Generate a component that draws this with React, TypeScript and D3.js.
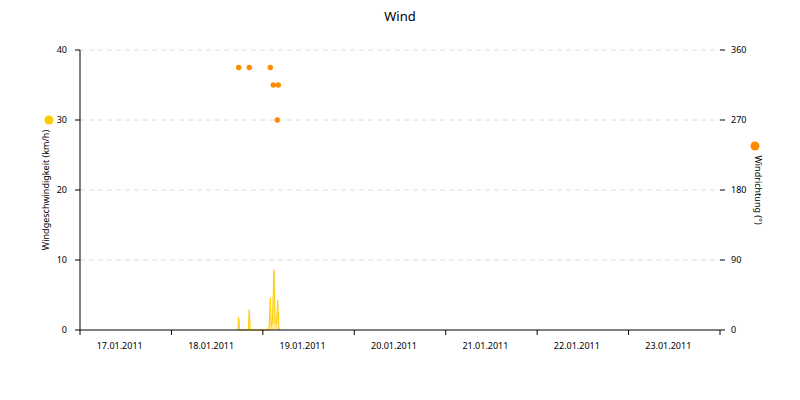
import React from "react";
import * as d3 from "d3";

// Wind speed (km/h) readings, [time, value]
const speedTimes: string[] = [
  "2011-01-18T17:25", "2011-01-18T17:40", "2011-01-18T17:55",
  "2011-01-18T20:10", "2011-01-18T20:26", "2011-01-18T20:42",
  "2011-01-19T01:20", "2011-01-19T01:40", "2011-01-19T01:57", "2011-01-19T02:15",
  "2011-01-19T02:30", "2011-01-19T02:55", "2011-01-19T03:15", "2011-01-19T03:35",
  "2011-01-19T03:54", "2011-01-19T04:12", "2011-01-19T04:30",
];
const speedValues: number[] = [
  0, 1.8, 0,
  0, 2.9, 0,
  0, 0.6, 4.6, 0.5,
  1.2, 8.6, 0.8, 1.0,
  4.3, 0.4, 0,
];

// Wind direction (°)
const dirTimes: string[] = [
  "2011-01-18T17:40", "2011-01-18T20:26", "2011-01-19T01:57",
  "2011-01-19T02:44", "2011-01-19T04:03", "2011-01-19T03:47",
];
const dirValues: number[] = [337.5, 337.5, 337.5, 315, 315, 270];

const dayLabels: string[] = [
  "17.01.2011", "18.01.2011", "19.01.2011", "20.01.2011",
  "21.01.2011", "22.01.2011", "23.01.2011",
];
const leftTicks: number[] = [0, 10, 20, 30, 40];
const rightTicks: number[] = [0, 90, 180, 270, 360];

const W = 800, H = 400;
const M = { left: 80, right: 720, top: 50, bottom: 330 };
const FONT = "'Noto Sans', 'DejaVu Sans', sans-serif";
const YELLOW = "#FFCC00";
const ORANGE = "#FF8C00";

const parse = (s: string) => new Date(s + ":00");

export default function App() {
  const start = new Date(2011, 0, 17, 0, 0, 0);
  const end = new Date(2011, 0, 24, 0, 0, 0);
  const x = d3.scaleTime().domain([start, end]).range([M.left, M.right]);
  const yL = d3.scaleLinear().domain([0, 40]).range([M.bottom, M.top]);
  const yR = d3.scaleLinear().domain([0, 360]).range([M.bottom, M.top]);

  const speed = speedTimes.map((t, i) => ({ t: parse(t), v: speedValues[i] }));
  const dirs = dirTimes.map((t, i) => ({ t: parse(t), v: dirValues[i] }));

  const area = d3
    .area<{ t: Date; v: number }>()
    .x((d) => x(d.t))
    .y0(yL(0))
    .y1((d) => yL(d.v));
  const line = d3
    .line<{ t: Date; v: number }>()
    .x((d) => x(d.t))
    .y((d) => yL(d.v));

  const dayTicks = d3.timeDay.range(start, d3.timeDay.offset(end, 1));
  const days = d3.timeDay.range(start, end);

  return (
    <svg width={W} height={H} style={{ display: "block", position: "absolute", left: 0, top: 0 }} fontFamily={FONT}>
      <rect width={W} height={H} fill="#fff" />
      <text x={400} y={21} textAnchor="middle" fontSize={13} fill="#000">Wind</text>

      {/* grid */}
      {leftTicks.filter((t) => t > 0).map((t) => (
        <line key={"g" + t} x1={M.left} x2={M.right} y1={yL(t)} y2={yL(t)} stroke="#dcdcdc" strokeDasharray="5,4" />
      ))}

      {/* speed area */}
      <path d={area(speed) || ""} fill={YELLOW} fillOpacity={0.45} />
      <path d={line(speed) || ""} fill="none" stroke={YELLOW} strokeWidth={1} />

      {/* direction points */}
      {dirs.map((d, i) => (
        <circle key={"p" + i} cx={x(d.t)} cy={yR(d.v)} r={2.7} fill={ORANGE} />
      ))}

      {/* left axis */}
      <line x1={M.left} x2={M.left} y1={M.top} y2={M.bottom} stroke="#000" />
      {leftTicks.map((t) => (
        <g key={"l" + t}>
          <line x1={M.left - 5} x2={M.left} y1={yL(t)} y2={yL(t)} stroke="#000" />
          <text x={67} y={yL(t)} dy="0.35em" textAnchor="end" fontSize={9} fill="#000">{t}</text>
        </g>
      ))}
      <text transform={`translate(49,190) rotate(-90)`} textAnchor="middle" fontSize={9} fill="#000">
        Windgeschwindigkeit (km/h)
      </text>
      <circle cx={49} cy={120} r={4.5} fill={YELLOW} />

      {/* right axis */}
      {rightTicks.map((t) => (
        <g key={"r" + t}>
          <line x1={M.right} x2={M.right + 5} y1={yR(t)} y2={yR(t)} stroke="#000" />
          <text x={731} y={yR(t)} dy="0.35em" textAnchor="start" fontSize={9} fill="#000">{t}</text>
        </g>
      ))}
      <text transform={`translate(755,190) rotate(90)`} textAnchor="middle" fontSize={9} fill="#000">
        Windrichtung (°)
      </text>
      <circle cx={755} cy={146} r={4.5} fill={ORANGE} />

      {/* x axis */}
      <line x1={M.left} x2={M.right} y1={M.bottom} y2={M.bottom} stroke="#000" />
      {dayTicks.map((d, i) => (
        <line key={"xt" + i} x1={x(d)} x2={x(d)} y1={M.bottom} y2={M.bottom + 5} stroke="#000" />
      ))}
      {days.map((d, i) => (
        <text key={"xl" + i} x={x(d3.timeHour.offset(d, 12)) - 6} y={349} textAnchor="middle" fontSize={9} fill="#000">
          {dayLabels[i]}
        </text>
      ))}
    </svg>
  );
}
